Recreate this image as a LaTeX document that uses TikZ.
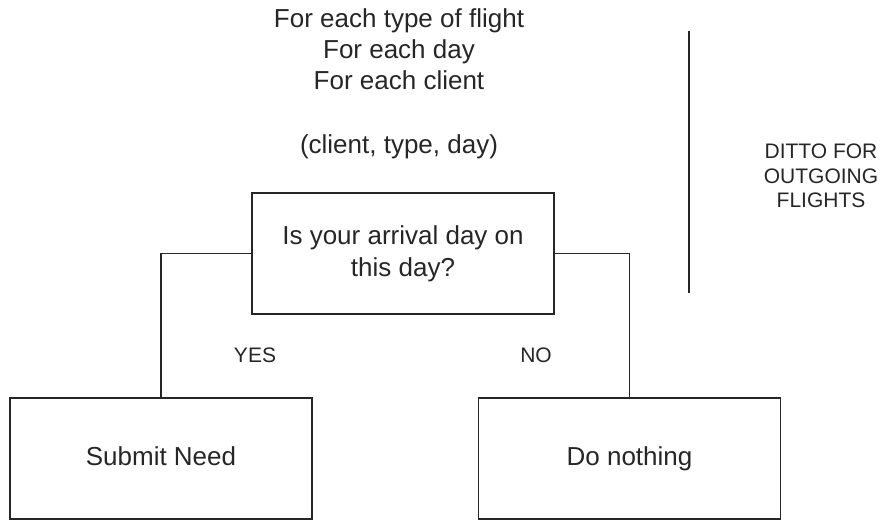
\documentclass[tikz,border=0pt]{standalone}
\usepackage{fontspec}
\setmainfont{Liberation Sans}
\usetikzlibrary{positioning}
\definecolor{ink}{HTML}{262626}
\tikzset{
  hdr/.style={font=\fontsize{26}{32}\selectfont, text=ink, inner sep=0pt},
  tag/.style={font=\fontsize{21}{24.75}\selectfont, text=ink, inner sep=0pt},
  stepbox/.style={
    draw=ink, line width=1.4pt, align=center, inner sep=0pt,
    minimum width=302pt, minimum height=121pt,
    font=\fontsize{26}{32}\selectfont, text=ink
  },
  outcome/.style={stepbox, text height=19pt, text depth=5.5pt},
  link/.style={draw=ink, line width=1.4pt}
}
\begin{document}
\begin{tikzpicture}[x=1pt, y=-1pt]
  \useasboundingbox (0,0) rectangle (883,520);
  % loop header
  \node[hdr, anchor=base] (flight) at (399,27) {For each type of flight};
  \node[hdr, anchor=base] (day) at (399,58.5) {For each day};
  \node[hdr, anchor=base] (client) at (399,89.5) {For each client};
  \node[hdr, anchor=base] (tuple) at (399,153) {(client, type, day)};
  % decision and outcomes
  \node[stepbox] (ask) at (403,253.5) {Is your arrival day on\\this day?};
  \node[outcome] (submit) at (161,458.5) {Submit Need};
  \node[outcome] (nothing) at (629.5,458.5) {Do nothing};
  \draw[link] (ask.west) -| (submit.north);
  \draw[link] (ask.east) -| (nothing.north);
  \node[tag, anchor=base] (yes) at (255,362) {YES};
  \node[tag, anchor=base] (no) at (536,362) {NO};
  % separator and note
  \coordinate (sepTop) at (689,31);
  \coordinate (sepBot) at (689,293);
  \draw[link] (sepTop) -- (sepBot);
  \node[tag, align=center] (ditto) at (821,176) {DITTO FOR\\OUTGOING\\FLIGHTS};
\end{tikzpicture}
\end{document}
